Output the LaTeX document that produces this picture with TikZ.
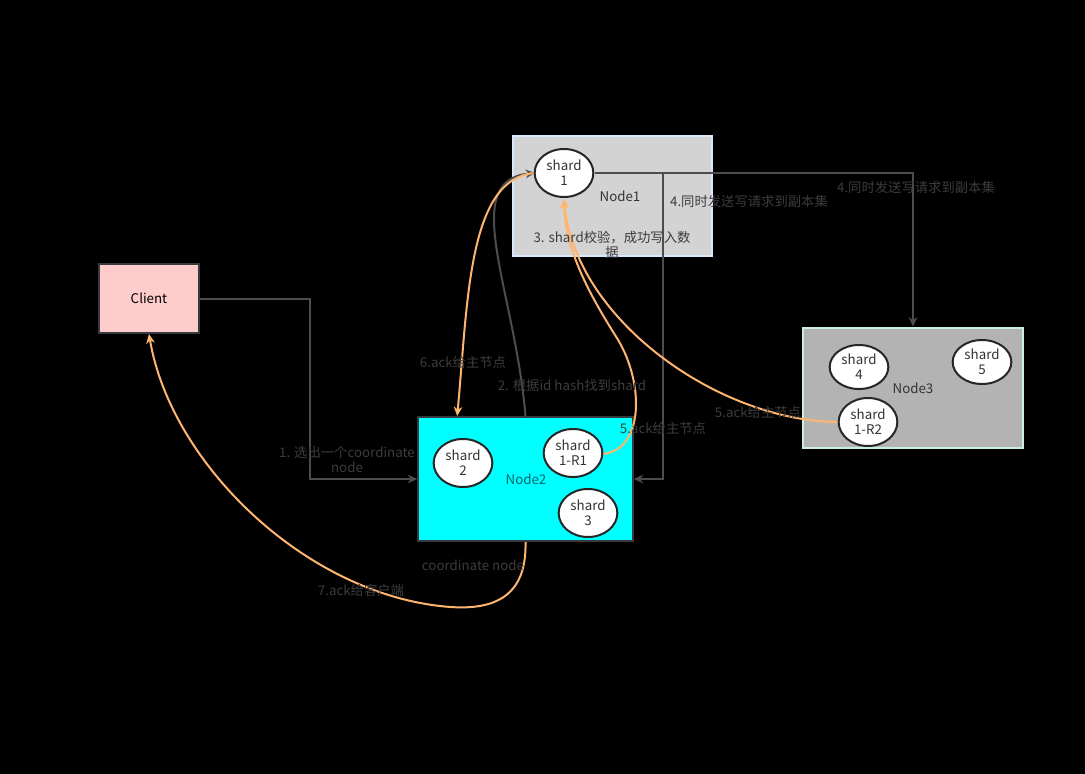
\documentclass[tikz,border=0pt]{standalone}
\usepackage{fontspec}
\setmainfont{Noto Sans CJK SC}
\usepackage{tikz}
\usetikzlibrary{shapes.geometric,arrows.meta}
\definecolor{ackorange}{HTML}{FFB570}
\definecolor{linegray}{HTML}{4D4D4D}
\definecolor{labelgray}{HTML}{3C3C3C}
\definecolor{clientpink}{HTML}{FFCCCC}
\definecolor{nodeonegray}{HTML}{D3D3D3}
\definecolor{nodetwocyan}{HTML}{00FFFF}
\definecolor{nodethreegray}{HTML}{B3B3B3}
\definecolor{paleblue}{HTML}{DAE8FC}
\definecolor{palemint}{HTML}{C8F0E0}
\definecolor{darkedge}{HTML}{36393D}
\definecolor{tealtext}{HTML}{00666E}
\tikzset{
  every node/.style={
    font=\fontsize{10}{11.25}\selectfont
  },
  host/.style n args={4}{
    shape=rectangle,
    draw=#1,
    fill=#2,
    line width=1.5pt,
    minimum width=#3,
    minimum height=#4,
    inner sep=0pt
  },
  shard/.style={
    shape=ellipse,
    draw=black!85,
    fill=white,
    line width=1.5pt,
    minimum width=44pt,
    minimum height=36pt,
    inner sep=0pt,
    align=center,
    text=black!80
  },
  hostname/.style={
    text=black!80,
    inner sep=0pt
  },
  steplabel/.style={
    text=labelgray,
    align=center,
    inner sep=0pt
  },
  request/.style={
    draw=linegray,
    line width=1.5pt,
    -{Stealth[length=7pt,width=6.5pt]}
  },
  ack/.style={
    draw=ackorange,
    line width=1.5pt,
    -{Stealth[length=7pt,width=6.5pt]}
  }
}

\begin{document}
\begin{tikzpicture}[x=0.75pt,y=-0.75pt]
  \fill[black] (0,0) rectangle (1085,774);
  \useasboundingbox (0,0) rectangle (1085,774);

  \node [host={darkedge}{clientpink}{75pt}{51.75pt}] (client) at (149,298.5) {Client};
  \node [host={paleblue}{nodeonegray}{149pt}{90pt}] (node1) at (612.5,196) {};
  \node [host={darkedge}{nodetwocyan}{161pt}{93pt}] (node2) at (525.5,479) {};
  \node [host={palemint}{nodethreegray}{165pt}{90pt}] (node3) at (913,387.5) {};

  \node [hostname] (node1name) at (620,196) {Node1};
  \node [hostname, text=tealtext] (node2name) at (526,479) {Node2};
  \node [hostname] (node3name) at (913,388) {Node3};

  \coordinate (split) at (663,173);

  \draw [request] (client.east) -- ++(110,0) |- (node2.west);
  \draw [request] (node2.north) .. controls (515,290) and (458,180) .. (535,173);
  \draw [request] (595,173) -- (split) |- (node2.east);
  \draw [request] (595,173) -| (node3.north);

  \draw [ack] (535,173) .. controls (468,178) and (468,300) .. ([xshift=30pt]node2.north west);
  \draw [ack] (601,454) .. controls (645,452) and (645,380) .. (615,335)
    .. controls (590,295) and (565,250) .. (564,199);
  \draw [ack] (839,422) .. controls (720,422) and (575,320) .. (564,199);
  \draw [ack] (node2.south) .. controls (527,600) and (490,612) .. (440,606)
    .. controls (300,590) and (170,460) .. (client.south);

  \node [shard] (shard1) at (564,173) {shard\\1};
  \node [shard] (shard2) at (463,463) {shard\\2};
  \node [shard] (shard1r1) at (573,453) {shard\\1-R1};
  \node [shard] (shard3) at (588,513) {shard\\3};
  \node [shard, minimum height=33pt] (shard4) at (859,367) {shard\\4};
  \node [shard, minimum height=33pt] (shard5) at (982,362) {shard\\5};
  \node [shard] (shard1r2) at (868,422) {shard\\1-R2};

  \node [steplabel] (lbl1) at (347,459.5) {1. 选出一个coordinate\\node};
  \node [steplabel] (lbl2) at (572,385) {2. 根据id hash找到shard};
  \node [steplabel] (lbl3) at (612,244.5) {3. shard校验，成功写入数\\据};
  \node [steplabel] (lbl4a) at (749,201) {4.同时发送写请求到副本集};
  \node [steplabel] (lbl4b) at (916,187) {4.同时发送写请求到副本集};
  \node [steplabel] (lbl5a) at (663,428) {5.ack给主节点};
  \node [steplabel] (lbl5b) at (758,412) {5.ack给主节点};
  \node [steplabel] (lbl6) at (463,362) {6.ack给主节点};
  \node [steplabel] (lbl7) at (361,590) {7.ack给客户端};
  \node [steplabel] (lblcoord) at (473,565) {coordinate node};
\end{tikzpicture}
\end{document}
